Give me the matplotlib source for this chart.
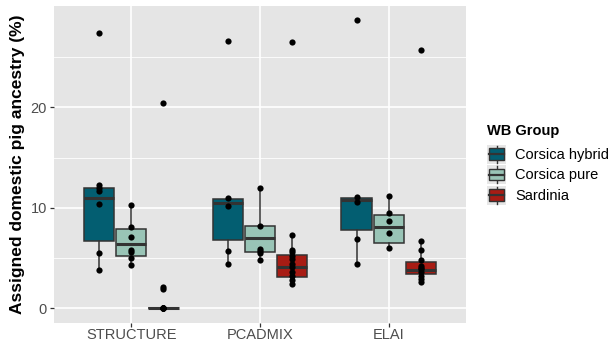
import matplotlib
matplotlib.use("Agg")
import matplotlib.pyplot as plt
from matplotlib.legend_handler import HandlerBase
from matplotlib.patches import Rectangle
from matplotlib.lines import Line2D

plt.rcParams['font.family'] = ['Liberation Sans', 'DejaVu Sans']

methods = ["STRUCTURE", "PCADMIX", "ELAI"]
groups = ["Corsica hybrid", "Corsica pure", "Sardinia"]
colors = ["#035e71", "#99c4b6", "#a81c14"]

# box stats: (whisker low, q1, median, q3, whisker high)
box_stats = {
    ("STRUCTURE", "Corsica hybrid"): (3.8, 6.7, 11.0, 12.0, 12.3),
    ("STRUCTURE", "Corsica pure"): (4.3, 5.2, 6.4, 7.9, 10.3),
    ("STRUCTURE", "Sardinia"): (0.0, 0.0, 0.0, 0.0, 0.0),
    ("PCADMIX", "Corsica hybrid"): (4.4, 6.8, 10.5, 10.9, 10.95),
    ("PCADMIX", "Corsica pure"): (4.8, 5.6, 7.0, 8.15, 12.0),
    ("PCADMIX", "Sardinia"): (2.4, 3.1, 4.1, 5.3, 7.3),
    ("ELAI", "Corsica hybrid"): (4.4, 7.8, 10.8, 11.0, 11.1),
    ("ELAI", "Corsica pure"): (6.0, 6.5, 8.1, 9.3, 11.2),
    ("ELAI", "Sardinia"): (2.6, 3.4, 3.8, 4.6, 6.7),
}

# individual values (dots)
points = {
    ("STRUCTURE", "Corsica hybrid"): [27.4, 12.3, 12.0, 11.7, 10.35, 5.5, 3.8],
    ("STRUCTURE", "Corsica pure"): [10.3, 8.1, 7.1, 5.8, 5.6, 5.0, 4.3],
    ("STRUCTURE", "Sardinia"): [20.4, 2.1, 1.9, 0.0, 0.0, 0.0, 0.0, 0.0, 0.0],
    ("PCADMIX", "Corsica hybrid"): [26.6, 10.95, 10.2, 5.7, 4.4],
    ("PCADMIX", "Corsica pure"): [12.0, 8.15, 5.9, 5.7, 5.5, 4.8],
    ("PCADMIX", "Sardinia"): [26.5, 7.3, 5.8, 5.6, 5.2, 4.9, 4.4, 4.1, 3.6, 3.2, 2.8, 2.4],
    ("ELAI", "Corsica hybrid"): [28.7, 11.1, 10.55, 6.9, 4.4],
    ("ELAI", "Corsica pure"): [11.2, 9.5, 8.7, 7.5, 6.0],
    ("ELAI", "Sardinia"): [25.7, 6.7, 5.8, 4.85, 4.25, 4.0, 3.9, 3.6, 3.25, 2.9, 2.6],
}

offsets = [-0.25, 0.0, 0.25]
box_w = 0.235
edge = "#333333"

fig = plt.figure(figsize=(6.13, 3.42), dpi=100)
ax = fig.add_axes([54 / 613, 1 - 322.7 / 342, (466 - 54) / 613, (322.7 - 6) / 342])
ax.set_facecolor("#e5e5e5")

for i, m in enumerate(methods):
    for j, g in enumerate(groups):
        lo, q1, med, q3, hi = box_stats[(m, g)]
        st = [dict(whislo=lo, q1=q1, med=med, q3=q3, whishi=hi, fliers=[])]
        ax.bxp(st, positions=[i + 1 + offsets[j]], widths=box_w, patch_artist=True,
               showcaps=False,
               boxprops=dict(facecolor=colors[j], edgecolor=edge, linewidth=1.1),
               whiskerprops=dict(color=edge, linewidth=1.1),
               medianprops=dict(color=edge, linewidth=2.2, solid_capstyle="butt"),
               manage_ticks=False, zorder=3)
        vals = points[(m, g)]
        ax.scatter([i + 1 + offsets[j]] * len(vals), vals, s=20, color="black", zorder=4, linewidths=0)

ax.set_xlim(0.4, 3.6)
ax.set_ylim(-1.43, 30.1)
ax.set_xticks([1, 2, 3])
ax.set_xticklabels(methods)
ax.set_yticks([0, 10, 20])
ax.set_yticks([5, 15, 25], minor=True)
ax.grid(True, which="major", color="white", linewidth=1.2, zorder=0)
ax.grid(True, which="minor", axis="y", color="white", linewidth=0.6, zorder=0)
ax.set_axisbelow(True)
for s in ax.spines.values():
    s.set_visible(False)
ax.tick_params(axis="both", which="major", colors="#333333", length=3, width=0.9,
               labelcolor="#4d4d4d", labelsize=10.5, pad=2)
ax.tick_params(axis="x", which="major", pad=1)
ax.tick_params(axis="y", which="minor", length=0)
ax.set_ylabel("Assigned domestic pig ancestry (%)", fontsize=12.5, fontweight="bold", labelpad=4)


class BoxKey(HandlerBase):
    def create_artists(self, legend, orig_handle, xd, yd, w, h, fontsize, trans):
        c = orig_handle.get_facecolor()
        x0, y0 = -xd, -yd
        bg = Rectangle((x0, y0), w, h, facecolor="#e6e6e6", edgecolor="none", transform=trans)
        wl = Line2D([x0 + w / 2] * 2, [y0 + h * 0.05, y0 + h * 0.95], color=edge, linewidth=1.0,
                    transform=trans)
        bx = Rectangle((x0 + w * 0.1, y0 + h * 0.2), w * 0.8, h * 0.6, facecolor=c,
                       edgecolor=edge, linewidth=1.0, transform=trans)
        md = Line2D([x0 + w * 0.1, x0 + w * 0.9], [y0 + h / 2] * 2, color=edge, linewidth=1.6,
                    transform=trans)
        return [bg, wl, bx, md]


handles = [Rectangle((0, 0), 1, 1, facecolor=c) for c in colors]
leg = fig.legend(handles, groups, loc="center left", bbox_to_anchor=(480 / 613, 0.52),
                 frameon=False, fontsize=10.5, title="WB Group",
                 title_fontproperties={"weight": "bold", "size": 10.5},
                 handler_map={Rectangle: BoxKey()}, handlelength=1.3, handleheight=1.63,
                 handletextpad=0.6, labelspacing=0.1, borderpad=0)
leg._legend_box.align = "left"
leg._legend_box.sep = 5

fig.savefig("out.png", dpi=100)
